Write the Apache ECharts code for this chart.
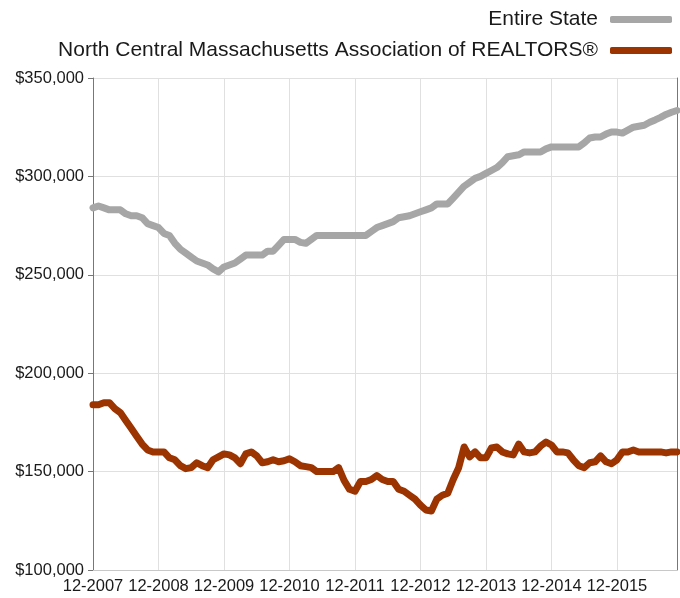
<!DOCTYPE html>
<html>
<head>
<meta charset="utf-8">
<script src="https://cdn.jsdelivr.net/npm/echarts@6/dist/echarts.min.js"></script>
<style>html,body{margin:0;padding:0;background:#fff}#c{width:680px;height:598px}</style>
</head>
<body>
<div id="c"></div>
<script>
var startMonth = 12, startYear = 2007, monthCount = 108;
var seriesNames = ['Entire State', 'North Central Massachusetts Association of REALTORS®'];
var entireState = [
284,285,284,283,283,283,281,280,280,279,276,275,
274,271,270,266,263,261,259,257,256,255,253,251.5,
254,255,256,258,260,260,260,260,262,262,265,268,
268,268,266.5,266,268,270,270,270,270,270,270,270,
270,270,270,272,274,275,276,277,279,279.5,280,281,
282,283,284,286,286,286,289,292,295,297,299,300,
301.5,303,304.5,307,310,310.5,311,312.4,312.4,312.4,312.4,314,
315,315,315,315,315,315,317,319.5,320,320,321.5,322.6,
322.5,322,323.5,325,325.5,326,327.5,328.7,330,331.5,332.6,333.5
];
var northCentral = [
184,184,185,185,182,180,176,172,168,164,161,160,
160,160,157,156,153,151.5,152,154.5,153,152,156,157.5,
159,158.5,157,154,159,160,158,154.5,155,156,155,155.5,
156.5,155,153,152.5,152,150,150,150,150,152,145.5,141,
140,145,145,146,148,146,145,145,141,140,138,136,
133,130.5,130,136,138,139,146,152,162.5,157.5,160,157,
157,162,162.5,160,159,158.5,164,160,159.5,160,163,165,
163.5,160,160,159.5,156,153,152,154.5,155,158,155,154,
156,160,160,161,160,160,160,160,160,159.5,160,160
];
var yTicks = [100000, 150000, 200000, 250000, 300000, 350000];

var categories = [];
for (var i = 0; i < monthCount; i++) {
  var m = (startMonth - 1 + i) % 12 + 1;
  var y = startYear + Math.floor((startMonth - 1 + i) / 12);
  categories.push(m + '-' + y);
}
function k(a){ return a.map(function(v){ return v * 1000; }); }
function fmt(v){ return '$' + String(v).replace(/\B(?=(\d{3})+(?!\d))/g, ','); }

var chart = echarts.init(document.getElementById('c'), null, {renderer: 'canvas'});
chart.setOption({
  animation: false,
  textStyle: {fontFamily: 'Liberation Sans, Arial, sans-serif'},
  legend: {
    orient: 'vertical', right: 3, top: 4, align: 'right',
    itemWidth: 62, itemHeight: 7, itemGap: 10,
    icon: 'roundRect',
    textStyle: {fontSize: 21, color: '#1a1a1a', fontFamily: 'Liberation Sans, Arial, sans-serif', padding: [0, 7, 0, 0]},
    data: seriesNames
  },
  grid: {left: 93, right: 3, top: 78, bottom: 28, containLabel: false},
  xAxis: {
    type: 'category', data: categories, boundaryGap: false,
    axisLine: {lineStyle: {color: '#c8c8c8', width: 1}},
    axisTick: {show: false},
    axisLabel: {interval: 11, color: '#1a1a1a', fontSize: 16.5, margin: 8},
    splitLine: {show: true, interval: 11, lineStyle: {color: '#e0e0e0', width: 1}}
  },
  yAxis: [{
    type: 'value', min: yTicks[0], max: yTicks[yTicks.length-1], interval: 50000,
    axisLine: {show: true, lineStyle: {color: '#777', width: 1}},
    axisTick: {show: true, length: 5, lineStyle: {color: '#777'}},
    axisLabel: {color: '#1a1a1a', fontSize: 16.5, margin: 9, formatter: fmt},
    splitLine: {show: true, lineStyle: {color: '#e0e0e0', width: 1}}
  }, {
    type: 'value', min: yTicks[0], max: yTicks[yTicks.length-1], interval: 50000, position: 'right',
    axisLine: {show: true, lineStyle: {color: '#777', width: 1}},
    axisTick: {show: false}, axisLabel: {show: false}, splitLine: {show: false}
  }],
  series: [{
    name: seriesNames[0], type: 'line', data: k(entireState), symbol: 'none',
    lineStyle: {color: '#a6a6a6', width: 7, cap: 'round', join: 'round'},
    itemStyle: {color: '#a6a6a6'}
  }, {
    name: seriesNames[1], type: 'line', data: k(northCentral), symbol: 'none',
    lineStyle: {color: '#9b3400', width: 7, cap: 'round', join: 'round'},
    itemStyle: {color: '#9b3400'}
  }]
});
</script>
</body>
</html>
